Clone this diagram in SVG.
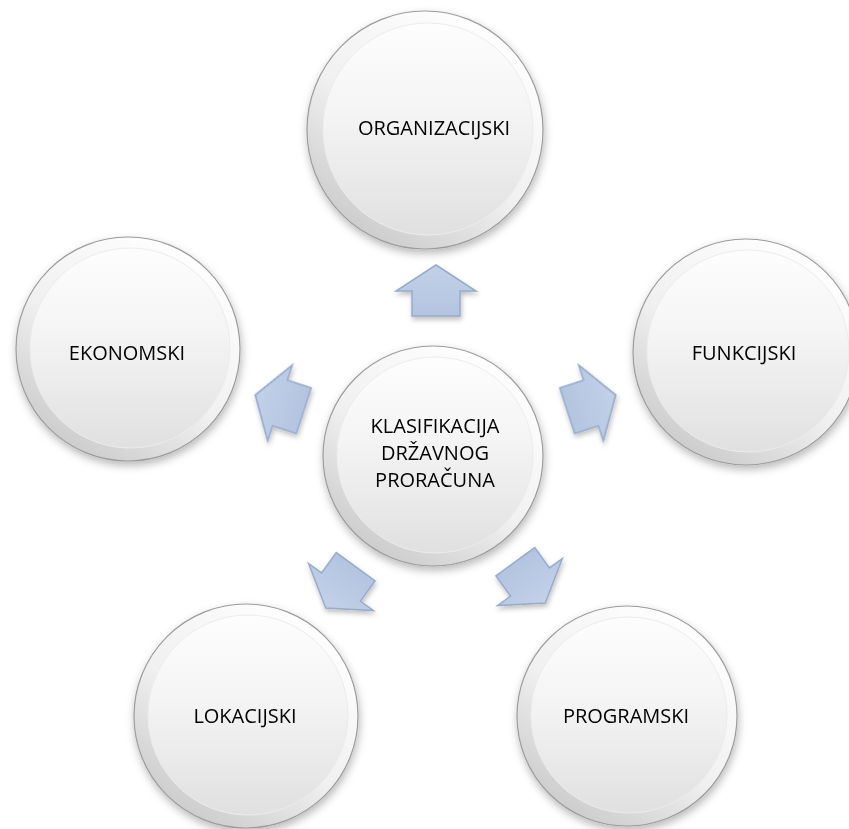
<svg xmlns="http://www.w3.org/2000/svg" xmlns:xlink="http://www.w3.org/1999/xlink" width="849" height="829" viewBox="0 0 849 829">
<style>
.ring{fill:url(#ringG);stroke:#9c9c9c;stroke-width:1.2}
.disc{fill:url(#discG);stroke:#ececec;stroke-width:1}
.lbl{font-family:"Open Sans","Liberation Sans",sans-serif;font-size:20px;fill:#000;text-anchor:middle}
.arr{fill:url(#arrG);stroke:#97abcd;stroke-width:1.5;stroke-linejoin:miter}
</style>
<defs>
<linearGradient id="ringG" x1="0.8" y1="0.05" x2="0.2" y2="0.95">
<stop offset="0" stop-color="#ffffff"/>
<stop offset="0.55" stop-color="#f0f0f0"/>
<stop offset="1" stop-color="#cacaca"/>
</linearGradient>
<linearGradient id="discG" x1="0" y1="0" x2="0" y2="1">
<stop offset="0" stop-color="#fdfdfd"/>
<stop offset="0.4" stop-color="#f5f5f5"/>
<stop offset="1" stop-color="#e0e0e0"/>
</linearGradient>
<linearGradient id="arrG" x1="0" y1="0" x2="0" y2="1">
<stop offset="0" stop-color="#c3d1e8"/>
<stop offset="1" stop-color="#b3c4e0"/>
</linearGradient>
<filter id="sh" x="-20%" y="-20%" width="140%" height="140%">
<feDropShadow dx="1" dy="4" stdDeviation="4" flood-color="#000" flood-opacity="0.28"/>
</filter>
<filter id="ash" x="-30%" y="-30%" width="160%" height="160%">
<feDropShadow dx="1" dy="3" stdDeviation="2.5" flood-color="#000" flood-opacity="0.25"/>
</filter>
<polygon id="arrow" points="0,-26 40,0 24,0 24,25 -24,25 -24,0 -40,0"/>
</defs>
<rect width="849" height="829" fill="#ffffff"/>

<g id="connectors" class="arr" filter="url(#ash)">
<use xlink:href="#arrow" transform="translate(436,291)"/>
<use xlink:href="#arrow" transform="translate(591,403) rotate(72)"/>
<use xlink:href="#arrow" transform="translate(530,582) rotate(144)"/>
<use xlink:href="#arrow" transform="translate(341,587) rotate(216)"/>
<use xlink:href="#arrow" transform="translate(280,403) rotate(288)"/>
</g>

<g id="center">
<circle class="ring" cx="433" cy="456" r="110" filter="url(#sh)"/>
<circle class="disc" cx="435" cy="455" r="98"/>
<text class="lbl" x="435" y="433">KLASIFIKACIJA</text>
<text class="lbl" x="435" y="460">DRŽAVNOG</text>
<text class="lbl" x="435" y="487">PRORAČUNA</text>
</g>

<g id="organizacijski">
<ellipse class="ring" cx="425" cy="130" rx="118" ry="119" filter="url(#sh)"/>
<ellipse class="disc" cx="428" cy="129" rx="105" ry="106"/>
<text class="lbl" x="434" y="135">ORGANIZACIJSKI</text>
</g>

<g id="ekonomski">
<circle class="ring" cx="128" cy="349" r="112" filter="url(#sh)"/>
<circle class="disc" cx="130" cy="348" r="100"/>
<text class="lbl" x="127" y="360">EKONOMSKI</text>
</g>

<g id="funkcijski">
<circle class="ring" cx="746" cy="352" r="113" filter="url(#sh)"/>
<circle class="disc" cx="748" cy="351" r="101"/>
<text class="lbl" x="744" y="360">FUNKCIJSKI</text>
</g>

<g id="lokacijski">
<circle class="ring" cx="246" cy="716" r="112" filter="url(#sh)"/>
<circle class="disc" cx="248" cy="715" r="100"/>
<text class="lbl" x="245" y="723">LOKACIJSKI</text>
</g>

<g id="programski">
<circle class="ring" cx="627" cy="716" r="110" filter="url(#sh)"/>
<circle class="disc" cx="629" cy="715" r="98"/>
<text class="lbl" x="626" y="723">PROGRAMSKI</text>
</g>
</svg>
